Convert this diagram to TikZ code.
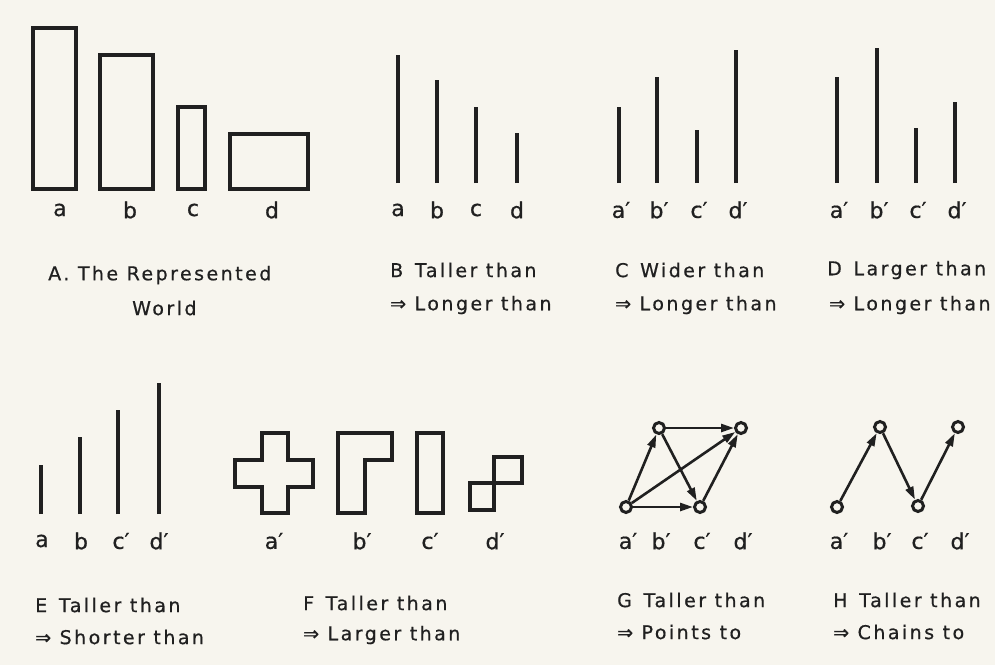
\documentclass[tikz,border=0pt]{standalone}
\usepackage{fontspec}
\setmainfont{DejaVu Sans}[LetterSpace=13, FakeBold=0.6]
\newfontfamily\labelfont{DejaVu Sans}[FakeBold=0.6]
\usepackage{tikz}
\usetikzlibrary{arrows.meta}
\definecolor{paper}{RGB}{247,245,238}
\definecolor{ink}{RGB}{32,32,32}

\begin{document}
\begin{tikzpicture}[
    x=1pt, y=-1pt,
    outline/.style={draw=ink, line width=3.4pt, line join=miter},
    bar/.style={draw=ink, line width=3.4pt},
    letter/.style={text=ink, font=\labelfont\fontsize{22}{24}\selectfont, inner sep=0pt},
    caption/.style={text=ink, font=\fontsize{19}{21}\selectfont, anchor=west, inner sep=0pt},
    dot/.style={circle, draw=ink, line width=3pt, minimum size=11pt, inner sep=0pt},
    arrow/.style={-{Triangle[length=13pt,width=8pt]}, draw=ink, line width=2.6pt}
  ]

    % Page
    \fill[paper] (0,0) rectangle (995,665);
    \useasboundingbox (0,0) rectangle (995,665);

    % A - The represented world
    \draw[outline] (33,28) rectangle (76,189);
    \draw[outline] (100,55) rectangle (153,189);
    \draw[outline] (178,107) rectangle (205,189);
    \draw[outline] (230,134) rectangle (308,189);
    \node[letter] (worlda) at (60,210) {a};
    \node[letter] (worldb) at (130,210) {b};
    \node[letter] (worldc) at (193,210) {c};
    \node[letter] (worldd) at (272,210) {d};
    \node[caption] (capa1) at (48,275) {A. The Represented};
    \node[caption] (capa2) at (132,308) {World};

    % B - Taller than => Longer than
    \draw[bar] (398,183) -- (398,55);
    \draw[bar] (437,183) -- (437,80);
    \draw[bar] (476,183) -- (476,107);
    \draw[bar] (517,183) -- (517,133);
    \node[letter] (tallera) at (398,210) {a};
    \node[letter] (tallerb) at (437,210) {b};
    \node[letter] (tallerc) at (476,210) {c};
    \node[letter] (tallerd) at (517,210) {d};
    \node[caption] (capb1) at (390,270) {B\, Taller than};
    \node[caption] (capb2) at (390,305) {⇒ Longer than};

    % C - Wider than => Longer than
    \draw[bar] (619,183) -- (619,107);
    \draw[bar] (657,183) -- (657,77);
    \draw[bar] (697,183) -- (697,130);
    \draw[bar] (736,183) -- (736,50);
    \node[letter] (widera) at (621,210) {a′};
    \node[letter] (widerb) at (659,210) {b′};
    \node[letter] (widerc) at (699,210) {c′};
    \node[letter] (widerd) at (738,210) {d′};
    \node[caption] (capc1) at (615,270) {C\, Wider than};
    \node[caption] (capc2) at (615,305) {⇒ Longer than};

    % D - Larger than => Longer than
    \draw[bar] (837,183) -- (837,77);
    \draw[bar] (877,183) -- (877,48);
    \draw[bar] (916,183) -- (916,128);
    \draw[bar] (955,183) -- (955,102);
    \node[letter] (largera) at (839,210) {a′};
    \node[letter] (largerb) at (879,210) {b′};
    \node[letter] (largerc) at (918,210) {c′};
    \node[letter] (largerd) at (957,210) {d′};
    \node[caption] (capd1) at (827,270) {D\, Larger than};
    \node[caption] (capd2) at (829,305) {⇒ Longer than};

    % E - Taller than => Shorter than
    \draw[bar] (41,514) -- (41,465);
    \draw[bar] (80,514) -- (80,437);
    \draw[bar] (118,514) -- (118,410);
    \draw[bar] (159,514) -- (159,383);
    \node[letter] (shortera) at (42,541) {a};
    \node[letter] (shorterb) at (81,541) {b};
    \node[letter] (shorterc) at (121,541) {c′};
    \node[letter] (shorterd) at (159,541) {d′};
    \node[caption] (cape1) at (35,605) {E\, Taller than};
    \node[caption] (cape2) at (35,637) {⇒ Shorter than};

    % F - Taller than => Larger than
    \draw[outline] (262,433) -- (288,433) -- (288,460) -- (313,460) -- (313,487) -- (288,487)
      -- (288,513) -- (262,513) -- (262,487) -- (235,487) -- (235,460) -- (262,460) -- cycle;
    \draw[outline] (338,433) -- (392,433) -- (392,460) -- (365,460) -- (365,513) -- (338,513) -- cycle;
    \draw[outline] (417,433) rectangle (443,513);
    \draw[outline] (470,483) rectangle (494,510);
    \draw[outline] (494,457) rectangle (522,483);
    \node[letter] (areaa) at (274,541) {a′};
    \node[letter] (areab) at (362,541) {b′};
    \node[letter] (areac) at (430,541) {c′};
    \node[letter] (aread) at (495,541) {d′};
    \node[caption] (capf1) at (303,603) {F\, Taller than};
    \node[caption] (capf2) at (303,635) {⇒ Larger than};

    % G - Taller than => Points to
    \node[dot] (pointa) at (626,507) {};
    \node[dot] (pointb) at (659,428) {};
    \node[dot] (pointc) at (700,507) {};
    \node[dot] (pointd) at (741,428) {};
    \draw[arrow] (pointa) -- (pointb);
    \draw[arrow] (pointa) -- (pointc);
    \draw[arrow] (pointa) -- (pointd);
    \draw[arrow] (pointb) -- (pointc);
    \draw[arrow] (pointb) -- (pointd);
    \draw[arrow] (pointc) -- (pointd);
    \node[letter] (pointla) at (628,541) {a′};
    \node[letter] (pointlb) at (661,541) {b′};
    \node[letter] (pointlc) at (702,541) {c′};
    \node[letter] (pointld) at (743,541) {d′};
    \node[caption] (capg1) at (617,600) {G\, Taller than};
    \node[caption] (capg2) at (617,632) {⇒ Points to};

    % H - Taller than => Chains to
    \node[dot] (chaina) at (837,507) {};
    \node[dot] (chainb) at (880,427) {};
    \node[dot] (chainc) at (918,506) {};
    \node[dot] (chaind) at (958,427) {};
    \draw[arrow] (chaina) -- (chainb);
    \draw[arrow] (chainb) -- (chainc);
    \draw[arrow] (chainc) -- (chaind);
    \node[letter] (chainla) at (839,541) {a′};
    \node[letter] (chainlb) at (882,541) {b′};
    \node[letter] (chainlc) at (920,541) {c′};
    \node[letter] (chainld) at (960,541) {d′};
    \node[caption] (caph1) at (833,600) {H\, Taller than};
    \node[caption] (caph2) at (833,632) {⇒ Chains to};

  \end{tikzpicture}
\end{document}
